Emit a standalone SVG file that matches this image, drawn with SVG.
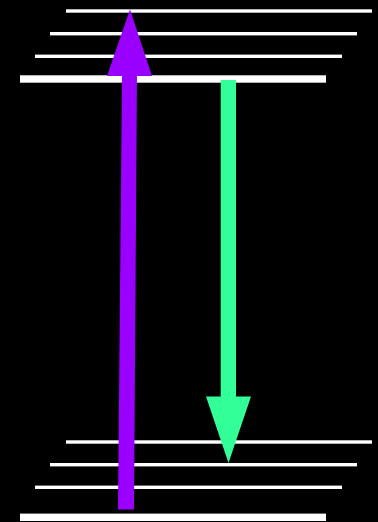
<svg xmlns="http://www.w3.org/2000/svg" width="378" height="522" viewBox="0 0 378 522">
<style>
.lvl{fill:#ffffff}
.abs{fill:#9900ff}
.em{fill:#33ff99}
</style>
<rect width="378" height="522" fill="#000000"/>
<g id="upper-levels">
<rect class="lvl" x="66" y="9.3" width="306" height="3.4"/>
<rect class="lvl" x="50" y="32" width="307" height="3.4"/>
<rect class="lvl" x="35" y="54.6" width="307" height="3.4"/>
<rect class="lvl" x="20" y="75.3" width="306" height="7.4"/>
</g>
<g id="lower-levels">
<rect class="lvl" x="66" y="440.3" width="306" height="3.4"/>
<rect class="lvl" x="50" y="463" width="307" height="3.4"/>
<rect class="lvl" x="35" y="485.6" width="307" height="3.4"/>
<rect class="lvl" x="20" y="513.6" width="306" height="7.4"/>
</g>
<g id="connectors">
<g id="absorption">
<polygon class="abs" points="118,509.5 134,509.5 137,74 122,74"/>
<polygon class="abs" points="130,9.5 152,76 107,76"/>
</g>
<g id="emission">
<rect class="em" x="220.7" y="80" width="15.3" height="318"/>
<polygon class="em" points="206,396.5 251,396.5 228.5,463"/>
</g>
</g>
</svg>
